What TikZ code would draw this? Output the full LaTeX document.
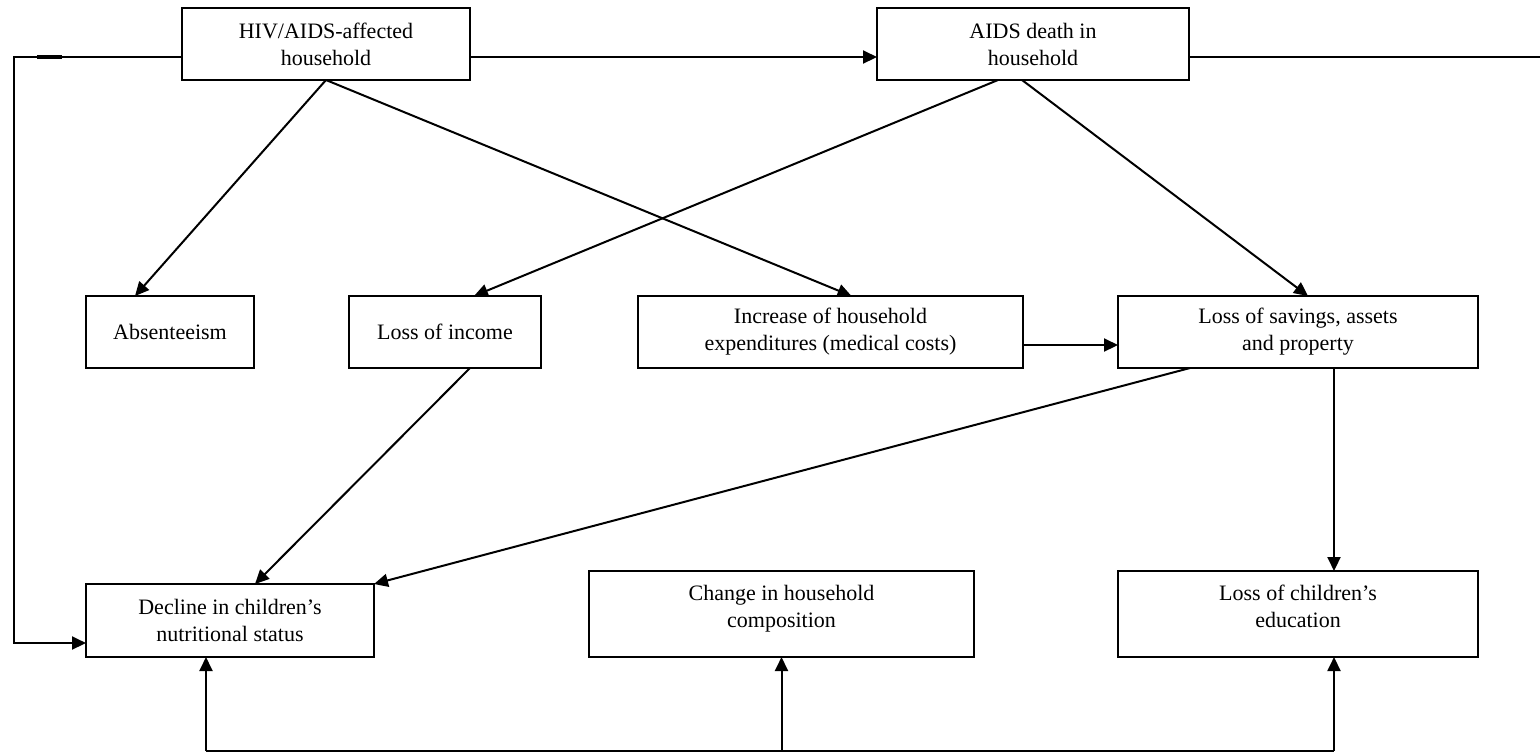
\documentclass[tikz,border=0pt]{standalone}
\usepackage{fontspec}
\setmainfont{Liberation Serif}
\usetikzlibrary{calc,arrows.meta}
\newcommand\mybox[6]{\node[box, minimum width={(#4-#2)*0.5pt}, minimum height={(#5-#3)*0.5pt}] (#1) at ({(#2+#4)/2},{(#3+#5)/2}) {#6};}
\begin{document}
\begin{tikzpicture}[x=0.5pt,y=-0.5pt,
  box/.style={draw, line width=1pt, inner sep=0pt, outer sep=0pt, align=center, font=\fontsize{11}{13.5}\selectfont},
  ln/.style={line width=1pt},
  arr/.style={line width=1pt, -{Triangle[length=7pt,width=6.5pt]}}]
\useasboundingbox (0,0) rectangle (1540,752);
\mybox{hiv}{182}{8}{470}{80}{HIV/AIDS-affected\\household}
\mybox{aids}{877}{8}{1189}{80}{AIDS death in\\household}
\mybox{abs}{86}{296}{254}{368}{Absenteeism}
\mybox{inc}{349}{296}{541}{368}{Loss of income}
\mybox{exp}{638}{296}{1023}{368}{Increase of household\\expenditures (medical costs)}
\mybox{sav}{1118}{296}{1478}{368}{Loss of savings, assets\\and property}
\mybox{dec}{86}{584}{374}{657}{Decline in children’s\\nutritional status}
\mybox{chg}{589}{571}{974}{657}{Change in household\\composition\\[-6pt]}
\mybox{edu}{1118}{571}{1478}{657}{Loss of children’s\\education\\[-6pt]}
% top row
\draw[arr] ($(hiv.west)+(0,13)$) -| ($(dec.west)+(-72,22.5)$) -- ($(dec.west)+(0,22.5)$);
\draw[line width=1.6pt] ($(hiv.west)+(-145,13)$) -- ($(hiv.west)+(-120,13)$);
\draw[arr] ($(hiv.east)+(0,13)$) -- ($(aids.west)+(0,13)$);
\coordinate (rend) at (1540,57);
\draw[ln] ($(aids.east)+(0,13)$) -- (rend);
% from hiv
\draw[arr] (hiv.south) -- ($(abs.north)+(-35,0)$);
\draw[arr] (hiv.south) -- ($(exp.north)+(21,0)$);
% from aids
\draw[arr] ($(aids.south)+(-35,0)$) -- ($(inc.north)+(29,0)$);
\draw[arr] ($(aids.south)+(-11,0)$) -- ($(sav.north)+(10,0)$);
% middle
\draw[arr] ($(exp.east)+(0,13)$) -- ($(sav.west)+(0,13)$);
\draw[arr] ($(inc.south)+(25,0)$) -- ($(dec.north)+(25,0)$);
\draw[arr] ($(sav.south)+(-108,0)$) -- (dec.north east);
\draw[arr] ($(sav.south)+(36,0)$) -- ($(edu.north)+(36,0)$);
% bottom bus
\draw[ln] ($(dec.south)+(-24,94)$) -- ($(edu.south)+(36,94)$);
\draw[arr] ($(dec.south)+(-24,94)$) -- ($(dec.south)+(-24,0)$);
\draw[arr] ($(chg.south)+(0,94)$) -- (chg.south);
\draw[arr] ($(edu.south)+(36,94)$) -- ($(edu.south)+(36,0)$);
\end{tikzpicture}
\end{document}
